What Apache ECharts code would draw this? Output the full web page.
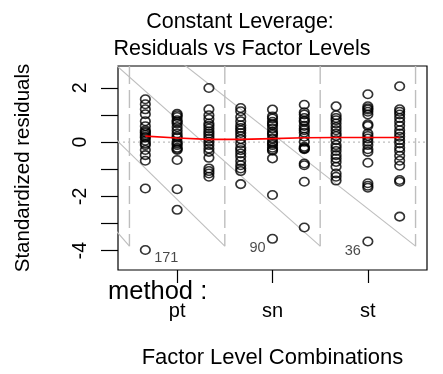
<!DOCTYPE html>
<html>
<head>
<meta charset="utf-8">
<script src="https://cdn.jsdelivr.net/npm/echarts@6/dist/echarts.min.js"></script>
<style>
  html, body { margin: 0; padding: 0; background: #ffffff; }
  #chart { width: 443px; height: 374px; }
</style>
</head>
<body>
<div id="chart"></div>
<script>
// Levels of the first factor, shown on the x axis
const methodLevels = ['pt', 'sn', 'st'];

// Standardized residuals, one list per factor level combination (three per method)
const residPt = [
  [1.58, 1.40, 1.21, 1.03, 0.77, 0.59, 0.44, 0.38, 0.34, 0.26, 0.20, 0.16, 0.05, -0.05, -0.11, -0.29, -0.48, -0.69, -1.71, -3.98],
  [1.05, 0.99, 0.93, 0.81, 0.75, 0.69, 0.56, 0.44, 0.32, 0.22, 0.16, 0.01, -0.05, -0.11, -0.21, -0.25, -0.29, -0.66, -1.74, -2.50],
  [2.00, 1.21, 0.99, 0.85, 0.69, 0.60, 0.50, 0.40, 0.32, 0.23, 0.13, 0.01, -0.11, -0.24, -0.36, -0.58, -0.97, -1.07, -1.16, -1.28]
];
const residSn = [
  [1.26, 1.14, 0.93, 0.77, 0.62, 0.52, 0.44, 0.34, 0.23, 0.11, -0.05, -0.21, -0.30, -0.42, -0.54, -0.70, -0.85, -0.97, -1.07, -1.55],
  [1.20, 0.95, 0.87, 0.75, 0.68, 0.62, 0.50, 0.38, 0.32, 0.26, 0.13, 0.01, -0.05, -0.11, -0.21, -0.27, -0.32, -0.60, -1.95, -3.57],
  [1.38, 1.10, 1.02, 0.89, 0.80, 0.75, 0.60, 0.50, 0.44, 0.35, 0.20, 0.01, -0.17, -0.22, -0.24, -0.26, -0.79, -0.85, -1.46, -3.15]
];
const residSt = [
  [1.32, 0.99, 0.89, 0.81, 0.69, 0.56, 0.44, 0.32, 0.23, 0.07, -0.11, -0.21, -0.33, -0.48, -0.60, -0.73, -0.91, -1.16, -1.28, -1.42],
  [1.77, 1.32, 1.25, 1.20, 1.12, 1.02, 0.66, 0.60, 0.32, 0.23, 0.13, 0.01, -0.11, -0.26, -0.36, -0.76, -1.52, -1.61, -1.68, -3.67],
  [2.06, 1.21, 1.12, 1.02, 0.89, 0.75, 0.60, 0.44, 0.32, 0.20, 0.07, -0.05, -0.21, -0.33, -0.50, -0.69, -0.87, -1.40, -1.46, -2.75]
];

// Smoothed trend of the residuals at each combination
const smoothFit = [0.22, 0.15, 0.10, 0.10, 0.13, 0.16, 0.17, 0.17, 0.17];

// Observations flagged with their row numbers (the lowest point of the combination)
const flaggedCombo = [0, 4, 7];
const flaggedId = ['171', '90', '36'];

// Axis ticks
const yTicks = [-4, -3, -2, -1, 0, 1, 2];
const yTickLabels = [-4, -2, 0, 2];
const xTickCombos = [1, 4, 7];

// Slopes of the grey diagonal guides ending at the foot of each separator
const guideSlopes = [-1.35, -1.15, -1.04, -0.92];

const FONT = '"Liberation Sans", Arial, Helvetica, sans-serif';
const INK = '#000';
const GREY = '#bebebe';
const X_MIN = -0.86, X_MAX = 8.86;
const Y_MIN = -4.72, Y_MAX = 2.81;
const SEP_FOOT = -3.84;

const combos = [...residPt, ...residSn, ...residSt];
const perLevel = combos.length / methodLevels.length;

// scatter points, with row labels on the flagged ones
const points = [];
combos.forEach((col, ci) => {
  const lowest = Math.min(...col);
  const flagIdx = flaggedCombo.indexOf(ci);
  col.forEach(v => {
    const item = { value: [ci, v] };
    if (flagIdx >= 0 && v === lowest) {
      const toRight = ci < 2;
      item.label = {
        show: true,
        formatter: flaggedId[flagIdx],
        position: 'inside',
        offset: toRight ? [21, 8.5] : [-15, 9],
        color: '#1a1a1a',
        fontSize: 14.5,
        fontFamily: FONT
      };
    }
    points.push(item);
  });
});

// separators between the method levels
const separators = [];
for (let k = 0; k <= methodLevels.length; k++) separators.push(k * perLevel - 0.5);

const series = [];
separators.forEach(sx => {
  series.push({
    type: 'line', silent: true, symbol: 'none', z: 1,
    data: [[sx, Y_MAX], [sx, SEP_FOOT]],
    lineStyle: { color: GREY, width: 1.4, type: [18, 6] }
  });
});
separators.forEach((sx, i) => {
  const s = guideSlopes[i];
  series.push({
    type: 'line', silent: true, symbol: 'none', z: 1, clip: true,
    data: [[sx, SEP_FOOT], [sx - 12, SEP_FOOT - s * 12]],
    lineStyle: { color: GREY, width: 1.1 }
  });
});
// zero reference
series.push({
  type: 'line', silent: true, symbol: 'none', z: 1,
  data: [[X_MIN, 0], [X_MAX, 0]],
  lineStyle: { color: GREY, width: 1.2, type: [2, 3] }
});
series.push({
  type: 'scatter', z: 3,
  data: points,
  symbol: 'circle',
  symbolSize: [9.5, 8.5],
  itemStyle: { color: 'rgba(0,0,0,0)', borderColor: INK, borderWidth: 1.6 }
});
series.push({
  type: 'line', z: 4, symbol: 'none',
  data: smoothFit.map((v, i) => [i, v]),
  lineStyle: { color: '#ff0000', width: 1.6 }
});

const chart = echarts.init(document.getElementById('chart'), null, { renderer: 'canvas' });
chart.setOption({
  animation: false,
  backgroundColor: '#ffffff',
  grid: {
    left: 118, top: 66, width: 309, height: 205,
    show: true, borderColor: INK, borderWidth: 1.2, backgroundColor: 'transparent'
  },
  xAxis: {
    type: 'value', min: X_MIN, max: X_MAX,
    name: 'Factor Level Combinations',
    nameLocation: 'middle', nameGap: 77,
    nameTextStyle: { fontFamily: FONT, fontSize: 22, color: INK },
    splitLine: { show: false },
    axisLine: { show: false, onZero: false },
    axisTick: { show: true, inside: false, length: 13, customValues: xTickCombos, lineStyle: { color: INK, width: 1.2 } },
    axisLabel: {
      customValues: xTickCombos, margin: 31,
      formatter: v => methodLevels[Math.round((v - 1) / perLevel)],
      fontFamily: FONT, fontSize: 20, color: INK
    }
  },
  yAxis: {
    type: 'value', min: Y_MIN, max: Y_MAX,
    name: 'Standardized residuals',
    nameLocation: 'middle', nameGap: 84, nameRotate: 90,
    nameTextStyle: { fontFamily: FONT, fontSize: 20.5, color: INK },
    splitLine: { show: false },
    axisLine: { show: false, onZero: false },
    axisTick: { show: true, inside: false, length: 17, customValues: yTicks, lineStyle: { color: INK, width: 1.2 } },
    axisLabel: {
      customValues: yTickLabels, rotate: 90, margin: 27,
      fontFamily: FONT, fontSize: 19.5, color: INK
    }
  },
  graphic: [
    { type: 'text', x: 240, y: 22, style: { text: 'Constant Leverage:', textAlign: 'center', textVerticalAlign: 'middle', font: '21.5px ' + FONT, fill: INK } },
    { type: 'text', x: 242, y: 49.5, style: { text: 'Residuals vs Factor Levels', textAlign: 'center', textVerticalAlign: 'middle', font: '21.5px ' + FONT, fill: INK } },
    { type: 'text', x: 108, y: 292, style: { text: 'method :', textAlign: 'left', textVerticalAlign: 'middle', font: '25.5px ' + FONT, fill: INK } }
  ],
  series: series
});
</script>
</body>
</html>
